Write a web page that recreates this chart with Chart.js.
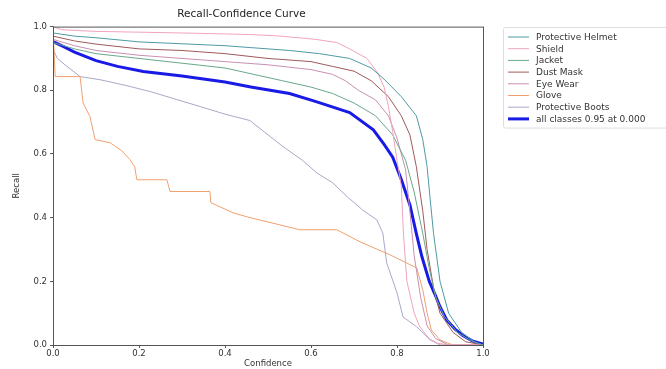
<!DOCTYPE html>
<html>
<head>
<meta charset="utf-8">
<script src="https://cdn.jsdelivr.net/npm/chart.js@4"></script>
<style>
  html, body { margin: 0; padding: 0; background: #fff; }
  #wrap { width: 666px; height: 369px; }
</style>
</head>
<body>
<div id="wrap"><canvas id="rc"></canvas></div>
<script>
// ---- data (confidence, recall) ----
const classNames = ['Protective Helmet', 'Shield', 'Jacket', 'Dust Mask', 'Eye Wear', 'Glove', 'Protective Boots'];
const allLabel = 'all classes 0.95 at 0.000';
const tickValues = [0, 0.2, 0.4, 0.6, 0.8, 1.0];

const helmet = [[0,0.98],[0.05,0.97],[0.1,0.965],[0.2,0.952],[0.3,0.946],[0.4,0.94],[0.46,0.934],[0.55,0.925],[0.62,0.915],[0.69,0.9],[0.74,0.87],[0.77,0.835],[0.81,0.78],[0.845,0.72],[0.86,0.645],[0.87,0.56],[0.877,0.46],[0.885,0.35],[0.9,0.2],[0.92,0.1],[0.95,0.04],[0.98,0.01],[1,0]];
const shield = [[0,1.0],[0.02,0.99],[0.1,0.985],[0.3,0.98],[0.46,0.975],[0.53,0.97],[0.61,0.96],[0.66,0.95],[0.69,0.93],[0.73,0.9],[0.755,0.855],[0.77,0.81],[0.78,0.75],[0.79,0.67],[0.8,0.58],[0.81,0.5],[0.815,0.35],[0.823,0.2],[0.84,0.1],[0.853,0.057],[0.875,0.02],[0.893,0.006],[0.92,0],[1,0]];
const jacket = [[0,0.95],[0.05,0.93],[0.1,0.915],[0.2,0.9],[0.3,0.885],[0.4,0.87],[0.5,0.84],[0.6,0.81],[0.65,0.79],[0.7,0.76],[0.75,0.72],[0.79,0.66],[0.82,0.58],[0.84,0.48],[0.86,0.35],[0.875,0.24],[0.89,0.15],[0.91,0.09],[0.94,0.04],[0.97,0.015],[1,0]];
const dustMask = [[0,0.97],[0.05,0.955],[0.1,0.945],[0.2,0.93],[0.3,0.925],[0.4,0.915],[0.5,0.9],[0.6,0.89],[0.65,0.875],[0.7,0.86],[0.74,0.83],[0.78,0.78],[0.81,0.72],[0.83,0.66],[0.845,0.56],[0.86,0.42],[0.87,0.3],[0.885,0.18],[0.9,0.1],[0.93,0.04],[0.96,0.01],[1,0]];
const eyeWear = [[0,0.96],[0.05,0.94],[0.1,0.925],[0.2,0.91],[0.3,0.9],[0.4,0.89],[0.5,0.88],[0.6,0.865],[0.65,0.85],[0.68,0.83],[0.71,0.8],[0.75,0.77],[0.78,0.72],[0.8,0.65],[0.82,0.55],[0.83,0.42],[0.84,0.28],[0.855,0.15],[0.87,0.06],[0.89,0.02],[0.92,0],[1,0]];
const glove = [[0,1.0],[0.005,0.843],[0.063,0.843],[0.07,0.76],[0.086,0.717],[0.098,0.645],[0.133,0.635],[0.16,0.61],[0.179,0.582],[0.19,0.56],[0.195,0.519],[0.265,0.519],[0.272,0.482],[0.365,0.482],[0.367,0.447],[0.419,0.415],[0.458,0.4],[0.574,0.362],[0.66,0.362],[0.714,0.324],[0.784,0.283],[0.846,0.242],[0.86,0.173],[0.87,0.1],[0.88,0.047],[0.9,0.016],[0.93,0],[1,0]];
const boots = [[0,0.93],[0.01,0.9],[0.028,0.88],[0.063,0.843],[0.11,0.833],[0.17,0.815],[0.226,0.796],[0.29,0.77],[0.342,0.749],[0.4,0.725],[0.458,0.705],[0.5,0.66],[0.535,0.623],[0.58,0.58],[0.614,0.54],[0.65,0.51],[0.684,0.466],[0.72,0.424],[0.753,0.393],[0.767,0.352],[0.776,0.258],[0.8,0.164],[0.814,0.088],[0.846,0.057],[0.877,0.016],[0.9,0],[1,0]];
const allClasses = [[0,0.953],[0.02,0.94],[0.05,0.92],[0.1,0.893],[0.15,0.875],[0.21,0.859],[0.3,0.845],[0.4,0.826],[0.46,0.81],[0.55,0.79],[0.61,0.765],[0.69,0.73],[0.745,0.676],[0.77,0.63],[0.79,0.59],[0.81,0.52],[0.83,0.44],[0.845,0.35],[0.858,0.277],[0.875,0.2],[0.888,0.16],[0.9,0.12],[0.916,0.078],[0.935,0.05],[0.953,0.03],[0.975,0.013],[1,0.003]];

const classCurves = [helmet, shield, jacket, dustMask, eyeWear, glove, boots];
const classColors = ['#4e9aa6', '#f0a4bc', '#6aa88a', '#a05a5a', '#c890b0', '#f0a070', '#a8a8c8'];

const FONT = 'DejaVu Sans';
const AXIS = '#555';

const toPts = arr => arr.map(([x, y]) => ({ x, y }));

const datasets = classCurves.map((curve, i) => ({
  label: classNames[i],
  data: toPts(curve),
  borderColor: classColors[i],
  borderWidth: 1
}));
datasets.push({ label: allLabel, data: toPts(allClasses), borderColor: '#1a1ae6', borderWidth: 3 });

// matplotlib-like frame + legend box
const framePlugin = {
  id: 'frame',
  afterDraw(chart) {
    const { ctx, chartArea: a } = chart;
    ctx.save();
    ctx.strokeStyle = AXIS;
    ctx.lineWidth = 1;
    ctx.strokeRect(a.left + 0.5, a.top + 0.5, a.right - a.left, a.bottom - a.top);

    // legend
    const lx = 503, ly = 27, rowH = 11.7;
    ctx.strokeStyle = '#ddd';
    ctx.beginPath();
    ctx.roundRect(lx + 0.5, ly + 0.5, 180, rowH * datasets.length + 7, 2);
    ctx.stroke();
    ctx.font = '9px ' + FONT;
    ctx.textBaseline = 'middle';
    ctx.fillStyle = '#333';
    datasets.forEach((ds, i) => {
      const y = ly + 10 + i * rowH;
      ctx.strokeStyle = ds.borderColor;
      ctx.lineWidth = ds.borderWidth;
      ctx.beginPath();
      ctx.moveTo(lx + 5, y);
      ctx.lineTo(lx + 26, y);
      ctx.stroke();
      ctx.fillText(ds.label, lx + 33, y + 0.5);
    });
    ctx.restore();
  }
};

new Chart(document.getElementById('rc'), {
  type: 'line',
  data: { datasets },
  options: {
    responsive: true,
    maintainAspectRatio: false,
    animation: false,
    elements: { point: { radius: 0 }, line: { tension: 0 } },
    layout: { padding: { left: 0, right: 183, top: 0, bottom: 0 } },
    plugins: {
      legend: { display: false },
      tooltip: { enabled: false },
      title: {
        display: true,
        text: 'Recall-Confidence Curve',
        color: '#222',
        font: { family: FONT, size: 10.5, weight: 'normal' },
        padding: { top: 8, bottom: 6 }
      }
    },
    scales: {
      x: {
        type: 'linear', min: 0, max: 1,
        afterBuildTicks: s => { s.ticks = tickValues.map(v => ({ value: v })); },
        afterFit: s => { s.height = 24; },
        ticks: { color: '#333', font: { family: FONT, size: 8.5 }, padding: 1, maxRotation: 0,
          callback: v => Number(v).toFixed(1) },
        grid: { drawOnChartArea: false, drawTicks: true, tickLength: 3, color: AXIS },
        border: { display: true, color: AXIS },
        title: { display: true, text: 'Confidence', color: '#333', font: { family: FONT, size: 8.5 }, padding: { top: 0, bottom: 0 } }
      },
      y: {
        type: 'linear', min: 0, max: 1,
        afterBuildTicks: s => { s.ticks = tickValues.map(v => ({ value: v })); },
        afterFit: s => { s.width = 53; },
        ticks: { color: '#333', font: { family: FONT, size: 8.5 }, padding: 3,
          callback: v => Number(v).toFixed(1) },
        grid: { drawOnChartArea: false, drawTicks: true, tickLength: 3, color: AXIS },
        border: { display: true, color: AXIS },
        title: { display: true, text: 'Recall', color: '#333', font: { family: FONT, size: 8.5 }, padding: { top: 12, bottom: 6 } }
      }
    }
  },
  plugins: [framePlugin]
});
</script>
</body>
</html>
